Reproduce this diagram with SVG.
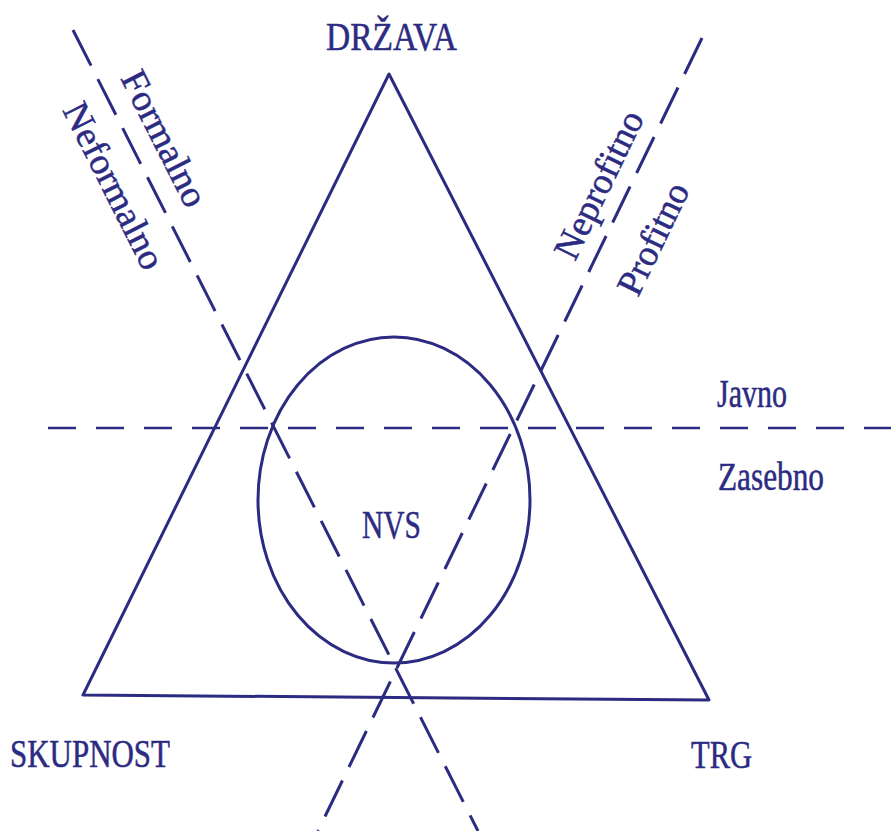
<svg xmlns="http://www.w3.org/2000/svg" width="891" height="831" viewBox="0 0 891 831">
<style>
.ln{fill:none;stroke:#2c2b82;stroke-width:3;stroke-linecap:round;stroke-linejoin:round}
.dd{fill:none;stroke:#2c2b82;stroke-width:3;stroke-dasharray:40 15}
.dh{fill:none;stroke:#2c2b82;stroke-width:2.5;stroke-dasharray:28 20}
.t{font-family:"Liberation Serif","Times New Roman",serif;font-size:31px;fill:#2c2b82;stroke:#2c2b82;stroke-width:0.4}
.r{font-family:"Liberation Serif","Times New Roman",serif;font-size:37px;fill:#2c2b82;stroke:#2c2b82;stroke-width:0.5}
</style>
<rect width="891" height="831" fill="#ffffff"/>
<g id="connectors">
<line class="dd" x1="73" y1="30" x2="478" y2="831"/>
<line class="dd" x1="702" y1="38" x2="318" y2="831"/>
<line class="dh" x1="48" y1="428" x2="891" y2="428"/>
</g>
<g id="triangle"><polygon class="ln" points="389,74 83,695 709,700"/></g>
<g id="nvs">
<ellipse class="ln" cx="394" cy="500" rx="136" ry="163"/>
<text class="t" transform="translate(391.5,538) scale(1,1.3)" text-anchor="middle" textLength="59" lengthAdjust="spacingAndGlyphs">NVS</text>
</g>
<g id="drzava"><text class="t" transform="translate(391.5,50) scale(1,1.3)" text-anchor="middle" textLength="131" lengthAdjust="spacingAndGlyphs">DRŽAVA</text></g>
<g id="skupnost"><text class="t" transform="translate(90,767) scale(1,1.3)" text-anchor="middle" textLength="160" lengthAdjust="spacingAndGlyphs">SKUPNOST</text></g>
<g id="trg"><text class="t" transform="translate(721.5,768) scale(1,1.3)" text-anchor="middle" textLength="61" lengthAdjust="spacingAndGlyphs">TRG</text></g>
<g id="javno"><text class="t" transform="translate(717,407) scale(1,1.3)" textLength="70" lengthAdjust="spacingAndGlyphs">Javno</text></g>
<g id="zasebno"><text class="t" transform="translate(718,490) scale(1,1.3)" textLength="106" lengthAdjust="spacingAndGlyphs">Zasebno</text></g>
<g id="formalno"><text class="r" transform="translate(120,78) rotate(63.2)" textLength="148" lengthAdjust="spacingAndGlyphs">Formalno</text></g>
<g id="neformalno"><text class="r" transform="translate(62,110) rotate(63.2)" textLength="182" lengthAdjust="spacingAndGlyphs">Neformalno</text></g>
<g id="neprofitno"><text class="r" transform="translate(575,262) rotate(-64.2)" textLength="160" lengthAdjust="spacingAndGlyphs">Neprofitno</text></g>
<g id="profitno"><text class="r" transform="translate(638,298) rotate(-64.2)" textLength="120" lengthAdjust="spacingAndGlyphs">Profitno</text></g>
</svg>
